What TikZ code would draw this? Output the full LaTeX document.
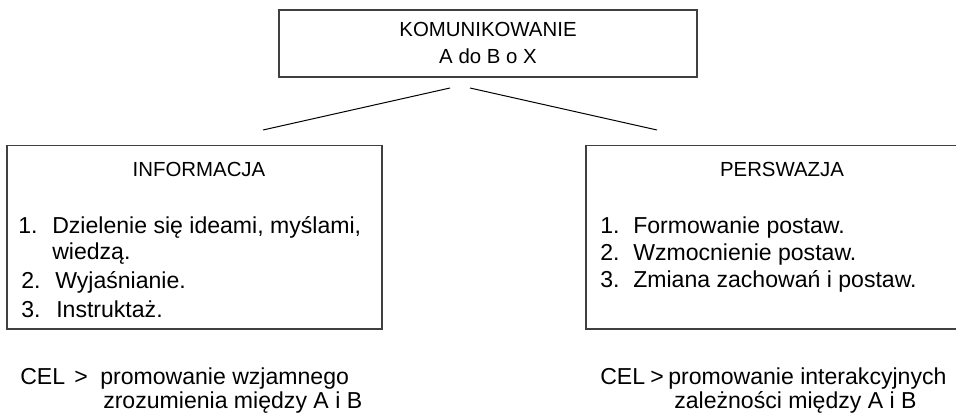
\documentclass[tikz,border=0pt]{standalone}
\usepackage{fontspec}
\setmainfont{Liberation Sans}
\usetikzlibrary{fit}
\begin{document}
\begin{tikzpicture}[x=0.75pt,y=-0.75pt,
    box/.style={draw=black!75,line width=1pt,inner sep=0pt},
    txt/.style={inner sep=0pt,anchor=base west,font=\fontsize{17.3}{20}\selectfont},
    ttl/.style={inner sep=0pt,anchor=base,font=\fontsize{15.3}{18}\selectfont}]
              \useasboundingbox(0,0)rectangle(956,413);
              \clip(0,0)rectangle(956,413);
              \node[box,fit={(279,10)(697,77)}](kom){};
              \node[box,fit={(7,145.5)(382,329)}](info){};
              \node[box,fit={(586,145.5)(962,329)}](pers){};
              \node[ttl](komA)at(488,37){KOMUNIKOWANIE};
              \node[ttl](komB)at(488,64){A do B o X};
              \coordinate(kl)at(450,88);
              \coordinate(kr)at(470,88);
              \coordinate(il)at(263,130);
              \coordinate(pr)at(657,130);
              \draw[line width=0.75pt](kl)--(il);
              \draw[line width=0.75pt](kr)--(pr);
              \node[ttl](infoT)at(199,177){INFORMACJA};
              \node[txt](i1)at(18,234){1.};
              \node[txt](i1t)at(52,234){Dzielenie się ideami, myślami,};
              \node[txt](i1b)at(52,259){wiedzą.};
              \node[txt](i2)at(21,288){2.};
              \node[txt](i2t)at(55,288){Wyjaśnianie.};
              \node[txt](i3)at(21,317){3.};
              \node[txt](i3t)at(56,317){Instruktaż.};
              \node[ttl](persT)at(782,177){PERSWAZJA};
              \foreach \n/\y/\t in {1/234/Formowanie postaw.,2/260.5/Wzmocnienie postaw.,3/287/Zmiana zachowań i postaw.}{
                \node[txt](p\n)at(600,\y){\n.};
                \node[txt](pt\n)at(633,\y){\t};
              }
              \node[txt](celI)at(20,384){CEL};
              \node[txt](gtI)at(74,384){>};
              \node[txt](celIa)at(100,384){promowanie wzjamnego};
              \node[txt](celIb)at(103,408){zrozumienia między A i B};
              \node[txt](celP)at(600,384){CEL};
              \node[txt](gtP)at(650,384){>};
              \node[txt](celPa)at(668,384){promowanie interakcyjnych};
              \node[txt](celPb)at(674,408){zależności między A i B};
            \end{tikzpicture}
\end{document}
